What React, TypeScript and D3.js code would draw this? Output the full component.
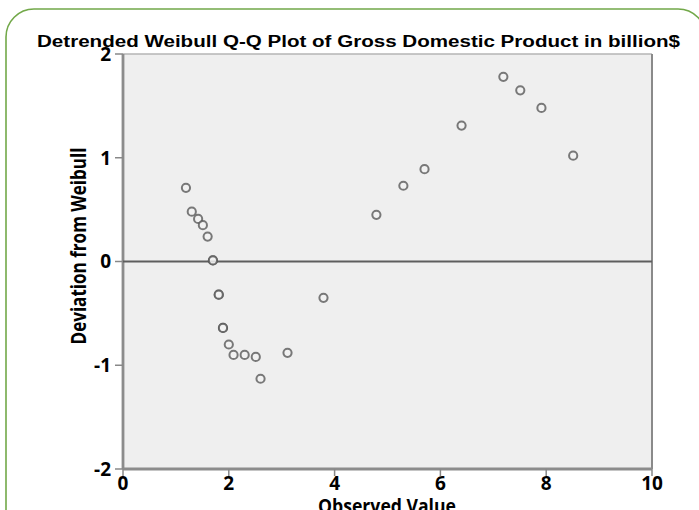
import React from "react";
import * as d3 from "d3";

// Observed GDP values (billion $) and their deviation from the fitted Weibull
const observed = [
  1.19, 1.3, 1.42, 1.51, 1.6, 1.7, 1.7, 1.81, 1.81, 1.89, 1.89, 2.0, 2.09, 2.3, 2.51,
  2.6, 3.11, 3.79, 4.79, 5.3, 5.7, 6.4, 7.19, 7.51, 7.91, 8.51,
];
const deviation = [
  0.71, 0.48, 0.41, 0.35, 0.24, 0.01, 0.01, -0.32, -0.32, -0.64, -0.64, -0.8, -0.9, -0.9,
  -0.92, -1.13, -0.88, -0.35, 0.45, 0.73, 0.89, 1.31, 1.78, 1.65, 1.48, 1.02,
];
const xTicks = [0, 2, 4, 6, 8, 10];
const yTicks = [2, 1, 0, -1, -2];

const W = 699;
const H = 510;
const left = 123;
const right = 652;
const top = 54;
const bottom = 469;

export default function App() {
  const x = d3.scaleLinear().domain([0, 10]).range([left, right]);
  const y = d3.scaleLinear().domain([-2, 2]).range([bottom, top]);
  const points = observed.map((v, i) => ({ v, d: deviation[i] }));
  const labelFont = "'Open Sans', 'DejaVu Sans', sans-serif";

  return (
    <svg
      width={W}
      height={H}
      style={{ position: "absolute", left: 0, top: 0, background: "#fff" }}
    >
      {/* outer rounded frame */}
      <rect
        x={6}
        y={9}
        width={700}
        height={560}
        rx={28}
        ry={28}
        fill="none"
        stroke="#72a849"
        strokeWidth={1.6}
      />

      <text
        x={358.5}
        y={46.5}
        textAnchor="middle"
        fontFamily="'Liberation Sans', Arial, sans-serif"
        fontWeight="bold"
        fontSize={16}
        textLength={643}
        lengthAdjust="spacingAndGlyphs"
        fill="#000"
      >
        Detrended Weibull Q-Q Plot of Gross Domestic Product in billion$
      </text>

      {/* plot area */}
      <rect x={left} y={top} width={right - left} height={bottom - top} fill="#efefef" />
      <line x1={left} x2={right} y1={top} y2={top} stroke="#b4b4b4" strokeWidth={1.5} />
      <line x1={right} x2={right} y1={top} y2={bottom} stroke="#8a8a8a" strokeWidth={2} />
      <line x1={left} x2={left} y1={top} y2={bottom} stroke="#8c8c8c" strokeWidth={2.8} />
      <line x1={left} x2={right} y1={bottom} y2={bottom} stroke="#8c8c8c" strokeWidth={2.8} />

      {/* zero deviation reference */}
      <line x1={left} x2={right} y1={y(0)} y2={y(0)} stroke="#5e5e5e" strokeWidth={2} />

      {yTicks.map((t) => (
        <g key={"y" + t}>
          <line x1={left - 8} x2={left} y1={y(t)} y2={y(t)} stroke="#888" strokeWidth={1.5} />
          <text
            x={left - 12}
            y={y(t)}
            dy="0.36em"
            textAnchor="end"
            fontFamily={labelFont}
            fontWeight="bold"
            fontSize={19}
            fill="#000"
          >
            {t}
          </text>
        </g>
      ))}

      {xTicks.map((t) => (
        <g key={"x" + t}>
          <line x1={x(t)} x2={x(t)} y1={bottom} y2={bottom + 7} stroke="#888" strokeWidth={1.5} />
          <text
            x={x(t)}
            y={489.5}
            textAnchor="middle"
            fontFamily={labelFont}
            fontWeight="bold"
            fontSize={19}
            fill="#000"
          >
            {t}
          </text>
        </g>
      ))}

      <text
        x={387}
        y={513}
        textAnchor="middle"
        fontFamily={labelFont}
        fontWeight="bold"
        fontSize={19}
        textLength={138}
        lengthAdjust="spacingAndGlyphs"
        fill="#000"
      >
        Observed Value
      </text>

      <text
        transform={`translate(86, 246) rotate(-90)`}
        textAnchor="middle"
        fontFamily={labelFont}
        fontWeight="bold"
        fontSize={22}
        textLength={197}
        lengthAdjust="spacingAndGlyphs"
        fill="#000"
      >
        Deviation from Weibull
      </text>

      {points.map((p, i) => (
        <circle
          key={i}
          cx={x(p.v)}
          cy={y(p.d)}
          r={4.1}
          fill="#f4f4f4"
          fillOpacity={0.6}
          stroke="#5a5a5a"
          strokeOpacity={0.8}
          strokeWidth={2}
        />
      ))}
    </svg>
  );
}
